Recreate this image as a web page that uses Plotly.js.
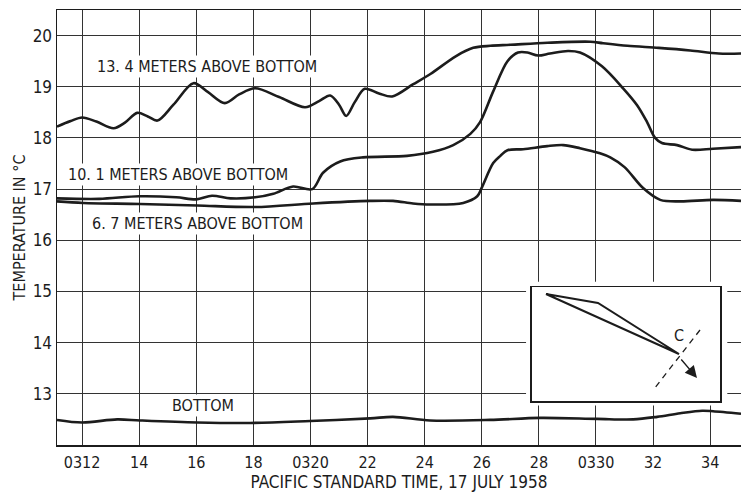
<!DOCTYPE html>
<html>
<head>
<meta charset="utf-8">
<script src="https://cdn.plot.ly/plotly-3.0.1.min.js"></script>
<style>
  html, body { margin: 0; padding: 0; background: #fff; }
  #chart { width: 741px; height: 497px; }
</style>
</head>
<body>
<div id="chart"></div>
<script>
// Time in minutes after 0300 PST, 17 July 1958
const xTickVals = [12, 14, 16, 18, 20, 22, 24, 26, 28, 30, 32, 34];
const xTickText = ["0312", "14", "16", "18", "0320", "22", "24", "26", "28", "0330", "32", "34"];
const yTickVals = [13, 14, 15, 16, 17, 18, 19, 20];

// 13.4 meters above bottom
const t134 = [11.12, 11.6, 12.0, 12.5, 13.1, 13.5, 13.93, 14.3, 14.64, 15.2, 15.9, 16.4, 17.0, 17.5, 18.06, 18.9, 19.81, 20.3, 20.69, 21.0, 21.25, 21.55, 21.9, 22.4, 22.86, 23.6, 24.2, 25.1, 25.7, 26.3, 27.0, 28.3, 29.8, 30.25, 31.1, 32.2, 33.3, 34.3, 35.1];
const v134 = [18.22, 18.33, 18.40, 18.32, 18.19, 18.30, 18.49, 18.42, 18.34, 18.65, 19.07, 18.90, 18.68, 18.85, 18.97, 18.80, 18.60, 18.72, 18.83, 18.65, 18.43, 18.70, 18.96, 18.87, 18.81, 19.05, 19.25, 19.60, 19.76, 19.80, 19.82, 19.86, 19.88, 19.85, 19.80, 19.76, 19.71, 19.65, 19.65];

// 10.1 meters above bottom
const t101 = [11.12, 12.6, 14.0, 15.3, 16.0, 16.55, 17.2, 18.06, 18.7, 19.39, 20.06, 20.44, 21.04, 21.84, 23.38, 24.29, 25.0, 25.6, 25.94, 26.4, 26.9, 27.27, 27.6, 27.97, 28.39, 29.02, 29.44, 30.21, 30.95, 31.44, 31.79, 32.07, 32.31, 32.84, 33.37, 34.1, 35.08];
const v101 = [16.82, 16.81, 16.86, 16.84, 16.80, 16.87, 16.82, 16.84, 16.91, 17.05, 17.00, 17.32, 17.54, 17.62, 17.65, 17.73, 17.86, 18.08, 18.31, 18.91, 19.50, 19.67, 19.67, 19.61, 19.65, 19.70, 19.67, 19.40, 18.97, 18.64, 18.31, 18.00, 17.90, 17.86, 17.77, 17.79, 17.82];

// 6.7 meters above bottom
const t67 = [11.12, 12.04, 14.03, 16.03, 18.06, 20.09, 22.09, 22.89, 23.59, 24.19, 25.35, 25.84, 26.0, 26.4, 26.65, 26.9, 27.45, 28.29, 28.85, 29.44, 30.14, 30.5, 31.0, 31.65, 32.25, 32.95, 34.1, 35.08];
const v67 = [16.76, 16.73, 16.71, 16.68, 16.65, 16.72, 16.77, 16.77, 16.72, 16.70, 16.73, 16.86, 17.03, 17.51, 17.65, 17.76, 17.78, 17.84, 17.86, 17.80, 17.70, 17.62, 17.43, 17.02, 16.79, 16.76, 16.79, 16.77];

// Bottom
const tBot = [11.12, 12.0, 13.23, 14.03, 16.03, 17.88, 19.99, 22.09, 22.89, 24.19, 26.29, 28.04, 30.04, 31.3, 32.14, 32.95, 33.72, 34.1, 35.08];
const vBot = [12.49, 12.44, 12.50, 12.48, 12.44, 12.43, 12.47, 12.52, 12.55, 12.48, 12.49, 12.53, 12.51, 12.50, 12.55, 12.62, 12.67, 12.66, 12.61];

// Inset diagram (arbitrary inset units)
const insetPathX = [14, 66, 147, 14];
const insetPathY = [107, 98, 47, 107];
const insetDashX = [168, 122];
const insetDashY = [71, 12];

const FONT = "'DejaVu Sans Condensed', 'Liberation Sans Narrow', sans-serif";
const INK = '#1c1c1c';

function curve(x, y) {
  return { x: x, y: y, type: 'scatter', mode: 'lines', xaxis: 'x', yaxis: 'y',
           line: { color: INK, width: 2.6, shape: 'spline', smoothing: 0.9 },
           hoverinfo: 'skip', showlegend: false };
}

const data = [
  curve(t134, v134),
  curve(t101, v101),
  curve(t67, v67),
  curve(tBot, vBot),
  { x: insetPathX, y: insetPathY, type: 'scatter', mode: 'lines', xaxis: 'x2', yaxis: 'y2',
    line: { color: INK, width: 2 }, hoverinfo: 'skip', showlegend: false },
  { x: insetDashX, y: insetDashY, type: 'scatter', mode: 'lines', xaxis: 'x2', yaxis: 'y2',
    line: { color: INK, width: 1.3, dash: '6px,5px' }, hoverinfo: 'skip', showlegend: false }
];

function label(text, x, y) {
  return { text: text, x: x, y: y, xref: 'x', yref: 'y', xanchor: 'left', yanchor: 'middle',
           showarrow: false, bgcolor: '#ffffff', borderpad: 1,
           font: { family: FONT, size: 16, color: INK } };
}

const layout = {
  width: 741, height: 497,
  margin: { l: 57, r: 0, t: 10, b: 52 },
  paper_bgcolor: '#ffffff', plot_bgcolor: '#ffffff',
  font: { family: FONT, size: 16, color: INK },
  showlegend: false,
  xaxis: {
    range: [11.12, 35.08], tickvals: xTickVals, ticktext: xTickText,
    showgrid: true, gridcolor: '#333333', gridwidth: 1,
    showline: true, mirror: true, linecolor: INK, linewidth: 1.5,
    zeroline: false, ticks: '', ticklabelstandoff: 2,
    tickfont: { family: FONT, size: 16, color: INK },
    title: { text: 'PACIFIC STANDARD TIME, 17 JULY 1958', standoff: 0,
             font: { family: FONT, size: 17, color: INK } }
  },
  yaxis: {
    range: [12, 20.5], tickvals: yTickVals,
    showgrid: true, gridcolor: '#333333', gridwidth: 1,
    showline: true, mirror: false, linecolor: INK, linewidth: 1.5,
    zeroline: false, ticks: '', ticklabelstandoff: 0,
    tickfont: { family: FONT, size: 17, color: INK },
    title: { text: 'TEMPERATURE IN °C', standoff: 3,
             font: { family: FONT, size: 16, color: INK } }
  },
  xaxis2: {
    domain: [0.6944, 0.9693], anchor: 'y2', range: [0, 188],
    showgrid: false, zeroline: false, showticklabels: false, ticks: '',
    showline: true, mirror: true, linecolor: INK, linewidth: 1.5
  },
  yaxis2: {
    domain: [0.1011, 0.3632], anchor: 'x2', range: [0, 114],
    showgrid: false, zeroline: false, showticklabels: false, ticks: '',
    showline: true, mirror: true, linecolor: INK, linewidth: 1.5
  },
  shapes: [
    { type: 'rect', xref: 'x', yref: 'y', x0: 27.55, x1: 34.6, y0: 12.77, y1: 15.19,
      fillcolor: '#ffffff', line: { width: 0 }, layer: 'between' }
  ],
  annotations: [
    label('13. 4 METERS ABOVE BOTTOM', 12.46, 19.39),
    label('10. 1 METERS ABOVE BOTTOM', 11.44, 17.29),
    label('6. 7 METERS ABOVE BOTTOM', 12.28, 16.32),
    label('BOTTOM', 15.08, 12.77),
    { text: 'C', x: 147, y: 66, xref: 'x2', yref: 'y2', showarrow: false,
      font: { family: FONT, size: 16, color: INK } },
    { text: '', x: 165, y: 23, xref: 'x2', yref: 'y2', ax: 148, ay: 43, axref: 'x2', ayref: 'y2',
      showarrow: true, arrowhead: 2, arrowsize: 1.7, arrowwidth: 1.4, arrowcolor: INK }
  ]
};

Plotly.newPlot('chart', data, layout, { staticPlot: true, displayModeBar: false });
</script>
</body>
</html>
